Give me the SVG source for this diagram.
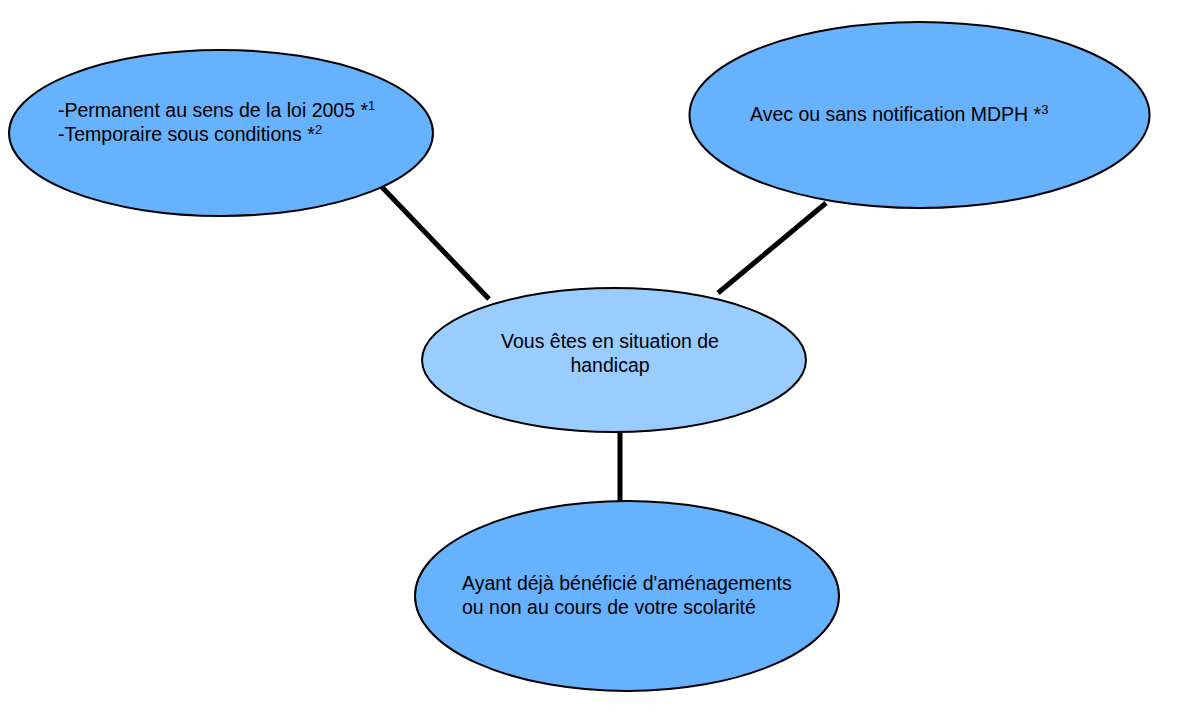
<svg xmlns="http://www.w3.org/2000/svg" width="1186" height="724" viewBox="0 0 1186 724">
<style>
.n{fill:#66B2FF;stroke:#000;stroke-width:2}
.c{fill:#99CCFF;stroke:#000;stroke-width:2}
.t{font-family:"Liberation Sans",Arial,sans-serif;font-size:19.5px;fill:#000}
.s{font-size:13px}
.e{stroke:#000;stroke-width:5;fill:none}
</style>
<rect width="1186" height="724" fill="#fff"/>
<g id="connectors">
<line class="e" x1="379" y1="184" x2="489" y2="299"/>
<line class="e" x1="826" y1="203" x2="718" y2="293"/>
<line class="e" x1="620" y1="433" x2="620" y2="501"/>
</g>
<g id="node-permanent">
<ellipse class="n" cx="221" cy="133" rx="212" ry="83"/>
<text class="t" x="58" y="117">-Permanent au sens de la loi 2005 *<tspan class="s" dy="-7">1</tspan></text>
<text class="t" x="58" y="141">-Temporaire sous conditions *<tspan class="s" dy="-7">2</tspan></text>
</g>
<g id="node-mdph">
<ellipse class="n" cx="919.5" cy="115" rx="230" ry="93"/>
<text class="t" x="750" y="121">Avec ou sans notification MDPH *<tspan class="s" dy="-7">3</tspan></text>
</g>
<g id="node-center">
<ellipse class="c" cx="614" cy="360" rx="192" ry="72"/>
<text class="t" x="610" y="348" text-anchor="middle">Vous êtes en situation de</text>
<text class="t" x="610" y="372" text-anchor="middle">handicap</text>
</g>
<g id="node-scolarite">
<ellipse class="n" cx="627" cy="596" rx="212" ry="95"/>
<text class="t" x="462" y="590">Ayant déjà bénéficié d'aménagements</text>
<text class="t" x="462" y="614">ou non au cours de votre scolarité</text>
</g>
</svg>
